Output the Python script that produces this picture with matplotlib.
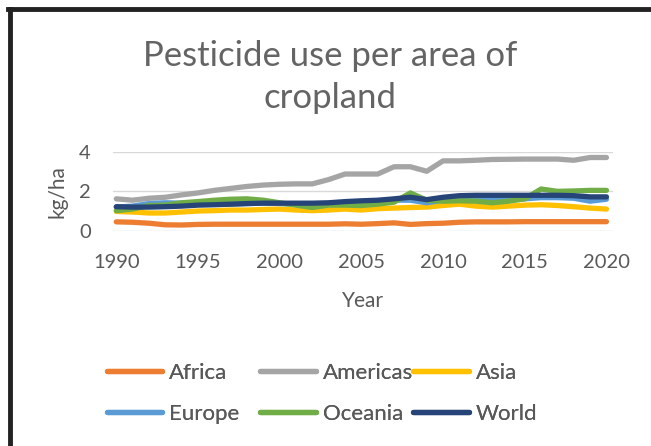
import matplotlib.pyplot as plt
from matplotlib.lines import Line2D

years = list(range(1990, 2021))

africa = [0.45, 0.43, 0.38, 0.30, 0.29, 0.32, 0.33, 0.33, 0.33, 0.33, 0.33,
          0.33, 0.33, 0.33, 0.35, 0.33, 0.36, 0.40, 0.32, 0.36, 0.38,
          0.43, 0.45, 0.45, 0.45, 0.46, 0.46, 0.46, 0.46, 0.46, 0.46]
americas = [1.62, 1.55, 1.65, 1.70, 1.82, 1.92, 2.05, 2.15, 2.25, 2.32, 2.36,
            2.38, 2.38, 2.60, 2.88, 2.88, 2.88, 3.25, 3.25, 3.02, 3.55,
            3.55, 3.58, 3.62, 3.63, 3.64, 3.64, 3.64, 3.58, 3.72, 3.72]
asia = [0.98, 0.95, 0.90, 0.90, 0.95, 1.00, 1.02, 1.05, 1.05, 1.08, 1.10,
        1.05, 1.02, 1.05, 1.10, 1.05, 1.12, 1.15, 1.18, 1.20, 1.28,
        1.35, 1.25, 1.20, 1.25, 1.30, 1.32, 1.28, 1.22, 1.15, 1.10]
europe = [1.20, 1.25, 1.38, 1.42, 1.40, 1.35, 1.35, 1.35, 1.38, 1.40, 1.38,
          1.35, 1.35, 1.38, 1.42, 1.45, 1.48, 1.55, 1.55, 1.42, 1.55,
          1.58, 1.58, 1.60, 1.62, 1.62, 1.68, 1.68, 1.65, 1.50, 1.60]
oceania = [1.02, 1.10, 1.28, 1.30, 1.42, 1.48, 1.55, 1.60, 1.62, 1.55, 1.42,
           1.30, 1.18, 1.30, 1.30, 1.28, 1.35, 1.45, 1.92, 1.55, 1.50,
           1.52, 1.50, 1.42, 1.50, 1.62, 2.12, 2.00, 2.02, 2.05, 2.05]
world = [1.22, 1.20, 1.20, 1.22, 1.25, 1.30, 1.32, 1.35, 1.38, 1.40, 1.40,
         1.40, 1.40, 1.42, 1.48, 1.52, 1.55, 1.62, 1.70, 1.58, 1.70,
         1.78, 1.80, 1.80, 1.80, 1.80, 1.80, 1.80, 1.78, 1.72, 1.72]

names = ['Africa', 'Americas', 'Asia', 'Europe', 'Oceania', 'World']
series = [africa, americas, asia, europe, oceania, world]
colors = ['#ED7D31', '#A5A5A5', '#FFC000', '#5B9BD5', '#70AD47', '#264478']

plt.rcParams['font.family'] = ['Lato', 'DejaVu Sans']
txt = '#595959'

fig = plt.figure(figsize=(6.51, 4.46), dpi=100)
ax = fig.add_axes([0.1736, 0.4827, 0.7680, 0.1765])

handles = []
for name, vals, c in zip(names, series, colors):
    h, = ax.plot(years, vals, color=c, lw=3.8, solid_capstyle='round',
                 solid_joinstyle='round', label=name)
    handles.append(h)

ax.set_xlim(1989.8, 2020.4)
ax.set_ylim(0, 4)
ax.set_xticks([1990, 1995, 2000, 2005, 2010, 2015, 2020])
ax.set_yticks([0, 2, 4])
ax.grid(axis='y', color='#d9d9d9', lw=1)
ax.set_axisbelow(True)
for s in ax.spines.values():
    s.set_visible(False)
ax.tick_params(length=0, labelsize=14.5, colors=txt)
ax.tick_params(axis='x', pad=17)
ax.tick_params(axis='y', pad=16)
ax.set_xlabel('Year', fontsize=15, color=txt, labelpad=14)
ax.set_ylabel('kg/ha', fontsize=15, color=txt, labelpad=8)

fig.text(0.507, 0.828, 'Pesticide use per area of\ncropland', ha='center',
         va='center', fontsize=25, color='#646464', linespacing=1.38)

# legend: three columns, two rows each
col_x = [0.164, 0.400, 0.635]
for i, x in enumerate(col_x):
    leg = fig.legend([handles[i], handles[i + 3]], [names[i], names[i + 3]],
                     loc='upper left', bbox_to_anchor=(x, 0.186), ncol=1,
                     frameon=False, fontsize=16, labelcolor=txt,
                     handlelength=2.5, handletextpad=0.3, labelspacing=0.95,
                     borderaxespad=0, borderpad=0)
    fig.add_artist(leg)

# outer frame on left and top
fig.add_artist(Line2D([0.0155, 0.0155], [0, 0.9798], color='#222222', lw=3.5))
fig.add_artist(Line2D([0.0125, 1.0], [0.9798, 0.9798], color='#222222', lw=3.5))

fig.savefig('out.png', dpi=100)
